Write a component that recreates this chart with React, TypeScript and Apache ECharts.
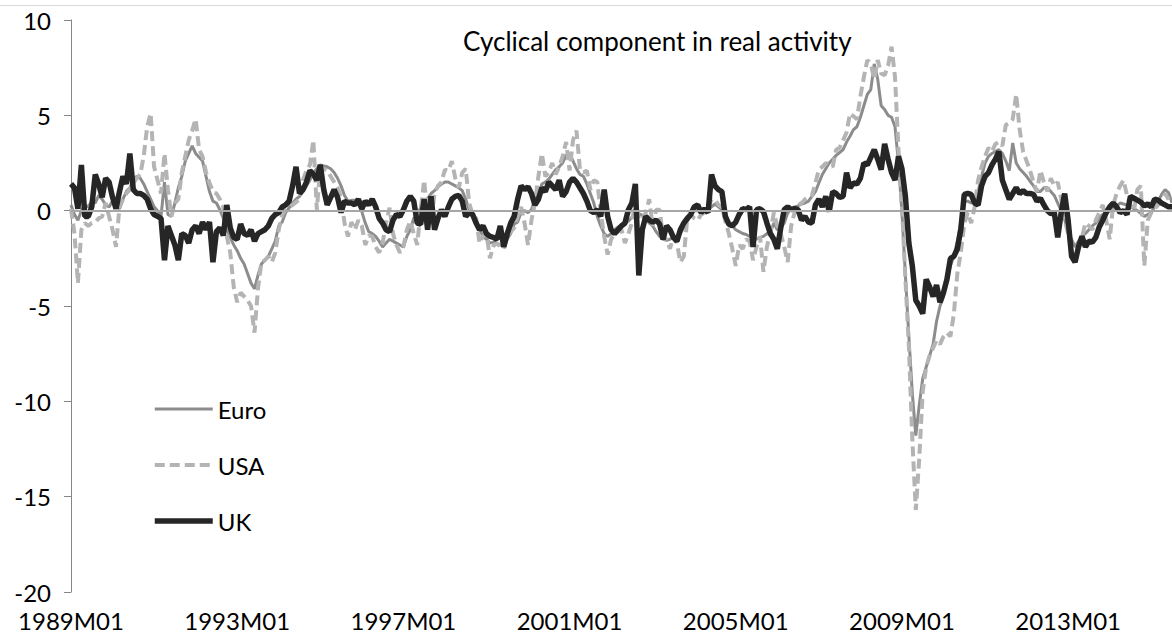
import React, { useEffect, useRef } from "react";
import * as echarts from "echarts";

// Monthly categories 1989M01 ... 2015M07
const startYear = 1989;
const monthCount = 319;
const months: string[] = [];
for (let k = 0; k < monthCount; k++) {
  const yr = startYear + Math.floor(k / 12);
  const m = (k % 12) + 1;
  months.push(`${yr}M${m < 10 ? "0" + m : m}`);
}

const seriesNames = ["Euro", "USA", "UK"];

// Euro area (one row per year)
const euro: number[] = [
  0.3, -0.2, -0.5, 0.0, 0.3, 0.2, 0.5, 0.4, 0.8, 0.6, 0.3, 0.2,
  0.5, 0.3, 0.1, 0.6, 1.0, 1.2, 1.6, 1.8, 1.7, 1.4, 1.0, 0.6,
  0.2, 0.0, -0.3, 1.5, -0.2, -0.3, 0.4, 1.2, 1.8, 2.6, 3.0, 3.4,
  3.0, 2.8, 2.6, 1.8, 1.0, 0.5, 0.4, 0.05, -0.4, -1.0, -1.4, -1.8,
  -2.1, -2.5, -2.8, -3.3, -3.8, -4.1, -3.4, -2.8, -2.6, -2.4, -2.0, -1.6,
  -0.8, -0.6, -0.1, 0.15, 0.4, 0.6, 0.75, 1.0, 1.3, 1.6, 2.0, 2.2,
  2.4, 2.35, 2.3, 2.2, 2.0, 1.7, 1.3, 0.8, 0.5, 0.55, 0.55, 0.4,
  -0.05, -0.65, -1.1, -1.2, -1.35, -1.6, -1.9, -1.7, -1.5, -1.6, -1.7, -1.8,
  -1.9, -1.35, -1.0, -0.4, -0.2, 0.15, 0.3, 0.65, 0.9, 1.05, 1.25, 1.4,
  1.5, 1.5, 1.4, 1.3, 1.2, 1.05, 0.6, 0.05, -0.3, -0.65, -1.0, -1.35,
  -1.5, -1.7, -1.65, -1.7, -1.8, -1.9, -1.5, -1.2, -0.7, -0.6, -0.1, 0.0,
  -0.1, 0.05, 0.6, 0.85, 1.4, 1.5, 1.65, 1.9, 2.15, 2.3, 2.5, 2.9,
  3.0, 2.6, 2.2, 1.9, 1.8, 1.4, 0.9, 0.4, -0.3, -0.8, -1.2, -1.35,
  -1.2, -1.0, -0.85, -0.8, -0.65, -0.55, -0.35, -0.1, -0.15, -0.25, -0.4, -0.65,
  -0.8, -1.1, -1.35, -1.5, -1.55, -1.5, -1.4, -1.35, -1.2, -0.9, -0.55, -0.25,
  0.0, 0.0, -0.1, -0.05, 0.05, 0.2, 0.35, 0.2, 0.05, -0.4, -0.65, -0.8,
  -1.0, -1.1, -1.2, -1.25, -1.35, -1.4, -1.5, -1.4, -1.35, -1.2, -1.15, -0.65,
  -1.0, -0.9, -0.65, -0.12, 0.1, 0.2, 0.25, 0.35, 0.4, 0.5, 0.75, 1.0,
  1.45, 1.9, 2.2, 2.5, 2.7, 2.9, 3.05, 3.2, 3.6, 3.9, 4.25, 4.4,
  4.9, 5.5, 6.1, 6.35, 7.7, 6.9, 5.5, 5.3, 5.0, 4.9, 4.4, 2.5,
  -0.1, -3.4, -6.6, -9.6, -11.8, -10.2, -8.8, -8.2, -7.6, -7.0, -5.8, -5.0,
  -4.5, -3.6, -2.9, -2.4, -1.6, -0.6, 0.5, 0.5, 0.4, 0.5, 1.0, 1.8,
  2.5, 2.85, 3.0, 3.1, 3.2, 3.0, 2.6, 2.1, 3.55, 2.5, 2.2, 2.0,
  1.8, 1.55, 1.3, 1.0, 1.0, 1.2, 1.2, 1.0, 0.8, 0.4, 0.0, -0.47,
  -1.1, -1.5, -1.9, -1.6, -1.35, -1.2, -1.0, -0.8, -0.65, -0.4, -0.2, -0.12,
  0.0, 0.1, 0.25, 0.4, 0.35, 0.3, 0.23, 0.1, 0.0, -0.15, -0.3, -0.2,
  -0.1, 0.2, 0.5, 0.85, 1.1, 0.95, 0.4,
];

// USA (one row per year)
const usa: number[] = [
  0.1, -1.2, -3.8, -1.0, -0.65, -0.8, -0.65, -0.6, -0.4, -0.3, 0.4, -0.3,
  -1.0, -1.9, 0.2, 0.6, 0.9, 1.1, 1.45, 1.7, 1.9, 2.85, 4.4, 5.1,
  2.3, 1.6, 0.9, 3.0, 1.1, -0.3, 0.4, 0.6, 2.0, 2.85, 3.7, 4.2,
  4.8, 3.2, 2.85, 2.0, 1.45, 1.0, 0.9, 0.6, 0.2, -1.35, -2.2, -4.0,
  -4.8, -4.3, -4.5, -4.7, -5.0, -6.4, -4.1, -2.7, -2.6, -2.4, -2.7, -2.2,
  -1.0, -0.2, 0.05, 0.2, 0.3, 0.45, 0.6, 1.6, 2.1, 2.4, 3.7, 0.05,
  2.2, 2.2, 2.1, 1.8, 1.5, 1.2, 0.7, -0.65, -1.35, -0.6, -1.0, -0.5,
  -0.8, -1.8, -1.3, -1.35, -1.9, -2.2, -1.7, -0.65, 0.15, -1.2, -1.8, -2.2,
  -1.9, -1.0, -0.55, -1.2, -1.8, 0.05, 1.6, -0.3, -0.65, 0.9, 1.3, 1.5,
  2.15, 2.1, 2.6, 1.7, 1.2, 2.0, 2.2, 0.4, -0.2, -0.4, -1.7, -1.35,
  -1.2, -2.5, -1.85, -1.7, -1.9, -2.0, -1.3, -1.1, -0.9, -0.3, 0.2, -0.65,
  -1.8, -0.5, 0.4, 1.8, 3.0, 1.8, 2.0, 2.5, 1.9, 2.3, 2.85, 3.6,
  2.1, 3.7, 4.2, 2.15, 2.0, 2.1, 1.1, 1.6, 1.5, -0.1, -1.35, -2.3,
  -1.5, -1.2, -1.1, -1.0, -1.7, -1.2, -0.65, 0.6, -0.4, -0.5, -0.1, 0.6,
  -0.8, 0.05, 0.05, -1.35, -1.5, -2.0, -1.35, -1.7, -2.7, -2.4, -0.4, -0.2,
  -0.4, -0.5, -0.2, -0.1, 0.1, 0.6, 0.6, 0.3, 0.2, -0.55, -1.2, -2.0,
  -2.9, -1.8, -2.0, -1.5, -1.6, -2.6, -1.9, -1.35, -3.2, -1.9, -1.1, -0.1,
  -0.8, -1.2, -1.9, -2.7, -0.8, -0.1, 0.3, 0.4, 0.6, 0.7, 0.8, 1.45,
  2.15, 2.3, 2.5, 2.4, 2.3, 3.2, 3.3, 3.7, 4.1, 5.1, 4.95, 4.8,
  6.0, 7.0, 7.9, 7.7, 6.9, 7.9, 7.2, 7.1, 7.6, 8.6, 7.0, 3.2,
  0.2, -3.6, -7.1, -12.0, -15.7, -13.0, -9.5, -8.2, -7.6, -7.2, -6.8, -7.0,
  -6.6, -6.4, -6.6, -5.4, -3.3, -2.2, -0.7, -0.1, -0.65, 0.2, 1.6, 2.3,
  2.85, 3.3, 3.1, 3.5, 3.6, 3.4, 4.5, 4.6, 4.8, 6.1, 4.25, 3.1,
  2.6, 2.1, 1.5, 1.0, 2.1, 1.5, 1.0, 1.7, 1.3, 1.5, 0.6, -0.5,
  -1.2, -2.1, -2.5, -1.8, -1.4, -0.65, -0.8, -1.0, -0.5, -0.1, 0.3, -0.5,
  -1.5, 0.3, 0.9, 1.3, 1.6, 0.8, 0.3, 0.0, 1.1, 1.3, -2.9, -0.5,
  -0.1, 0.1, 0.3, 0.5, 0.9, 0.6, 0.2,
];

// UK (one row per year)
const uk: number[] = [
  1.4, 1.2, 0.1, 2.4, -0.3, -0.3, 0.2, 1.9, 1.4, 0.7, 1.7, 1.5,
  0.7, 0.1, 1.0, 1.8, 1.4, 3.0, 1.1, 0.9, 0.9, 0.8, 0.6, 0.1,
  -0.2, -0.3, -0.4, -2.6, -0.8, -1.3, -1.8, -2.6, -1.2, -1.3, -1.7, -1.0,
  -0.8, -1.2, -0.6, -1.0, -0.6, -2.7, -1.1, -0.9, -1.3, 0.3, -0.9, -1.4,
  -1.5, -0.7, -1.2, -1.3, -1.0, -1.6, -1.2, -1.1, -1.0, -0.8, -0.4, -0.2,
  -0.1, 0.2, 0.3, 0.5, 1.3, 2.3, 0.9, 1.1, 1.5, 2.1, 1.9, 1.6,
  2.4, 1.1, 0.3, 0.7, 1.1, 0.7, -0.1, 0.5, 0.4, 0.4, 0.3, 0.6,
  0.1, 0.5, 0.3, 0.6, 0.2, -0.4, -0.65, -1.0, -1.1, -0.5, -0.2, -0.3,
  0.05, 0.5, 0.75, 0.5, -0.65, -0.7, 0.6, -1.0, 0.75, -1.0, -0.4, 0.05,
  -0.3, 0.2, 0.6, 0.75, 0.8, 0.5, -0.3, -0.1, -0.2, -0.65, -1.0, -0.8,
  -1.2, -1.35, -1.4, -1.5, -0.8, -1.9, -1.2, -0.65, -0.3, 0.6, 1.3, 1.1,
  1.25, 0.9, 0.3, 0.6, 1.2, 1.0, 1.5, 1.3, 1.1, 1.6, 0.75, 1.0,
  1.5, 1.7, 1.5, 1.2, 0.9, 0.5, 0.0, -0.1, 0.05, -0.3, 1.1, -0.3,
  -1.0, -1.2, -1.0, -0.8, -0.65, 0.05, 0.4, 1.4, -3.4, -1.0, -0.3, -0.5,
  -0.6, -0.5, -0.7, -1.5, -0.8, -1.0, -1.4, -1.6, -1.0, -0.65, -0.4, -0.2,
  0.2, 0.3, -0.1, 0.1, -0.1, 1.9, 1.3, 1.1, 1.0, -0.3, -0.7, -0.8,
  -0.6, -0.2, 0.1, 0.05, 0.2, -1.9, 0.05, 0.1, -0.05, -0.65, -1.2, -1.5,
  -2.0, -0.9, 0.05, 0.2, 0.05, 0.1, 0.05, -0.5, -0.3, -0.6, -0.65, 0.3,
  0.6, 0.2, 0.75, -0.05, 1.0, 0.9, 0.7, 0.75, 2.0, 1.2, 1.45, 1.4,
  1.7, 2.5, 2.4, 2.8, 3.2, 2.7, 2.15, 3.5, 2.7, 2.0, 1.6, 2.85,
  2.2, 0.75, -1.7, -2.9, -4.7, -5.0, -5.4, -3.6, -4.0, -4.5, -3.9, -4.8,
  -4.3, -3.6, -2.5, -2.4, -2.0, -1.0, 0.85, 0.9, 0.85, 0.4, 0.3, 1.3,
  1.8, 2.0, 2.4, 2.7, 3.1, 1.6, 1.1, 0.6, 0.9, 1.2, 0.9, 1.05,
  0.9, 0.9, 0.85, 0.5, 0.65, 0.3, 0.0, -0.15, -0.1, -1.4, -0.1, 0.9,
  -0.5, -2.4, -2.7, -1.9, -1.35, -1.9, -1.6, -1.65, -1.4, -0.85, -0.5, -0.1,
  0.2, 0.4, 0.2, -0.1, 0.0, -0.2, 0.75, 0.65, 0.55, 0.45, 0.25, 0.35,
  0.2, 0.6, 0.55, 0.4, 0.3, 0.2, 0.2,
];

const yMin = -20;
const yMax = 10;
const yStep = 5;
const labelEvery = 48;
const titleText = "Cyclical component in real activity";

const euroStyle = { color: "#8c8c8c", width: 3, type: "solid" as any };
const usaStyle = { color: "#b4b4b4", width: 4, type: [10, 5] as any };
const ukStyle = { color: "#262626", width: 5.5, type: "solid" as any };

export default function App() {
  const ref = useRef<HTMLDivElement>(null);
  useEffect(() => {
    if (!ref.current) return;
    const chart = echarts.init(ref.current, null, { renderer: "svg" });
    chart.setOption({
      animation: false,
      backgroundColor: "#ffffff",
      textStyle: { fontFamily: "Lato" },
      title: {
        text: titleText,
        left: 463,
        top: 28,
        padding: 0,
        textStyle: { fontFamily: "Lato", fontSize: 26, fontWeight: "normal", color: "#000" },
      },
      graphic: [
        {
          type: "line",
          shape: { x1: 0, y1: 5.5, x2: 1172, y2: 5.5 },
          style: { stroke: "#d9d9d9", lineWidth: 1 },
          silent: true,
        },
      ],
      legend: {
        data: [
          { name: seriesNames[0], lineStyle: { width: euroStyle.width, color: euroStyle.color, type: euroStyle.type } },
          { name: seriesNames[1], lineStyle: { width: usaStyle.width, color: usaStyle.color, type: usaStyle.type } },
          { name: seriesNames[2], lineStyle: { width: ukStyle.width, color: ukStyle.color, type: ukStyle.type } },
        ],
        orient: "vertical",
        left: 152,
        top: 397,
        padding: 0,
        itemWidth: 58,
        itemHeight: 14,
        itemGap: 32,
        itemStyle: { opacity: 0, borderWidth: 0 },
        textStyle: { fontFamily: "Lato", fontSize: 24, color: "#000" },
      },
      grid: { left: 71, right: 0, top: 20, bottom: 48, containLabel: false },
      xAxis: {
        type: "category",
        data: months,
        boundaryGap: false,
        axisLine: { show: false },
        axisTick: { show: false },
        splitLine: { show: false },
        axisLabel: {
          interval: (idx: number) => idx % labelEvery === 0,
          fontFamily: "Lato",
          fontSize: 24,
          color: "#000",
          margin: 16,
        },
      },
      yAxis: {
        type: "value",
        min: yMin,
        max: yMax,
        interval: yStep,
        axisLine: { show: true, lineStyle: { color: "#868686", width: 1 } },
        axisTick: { show: true, inside: false, length: 7, lineStyle: { color: "#868686" } },
        splitLine: { show: false },
        axisLabel: { fontFamily: "Lato", fontSize: 24, color: "#000", margin: 20 },
      },
      series: [
        {
          name: "zero",
          type: "line",
          data: [],
          z: 1,
          silent: true,
          markLine: {
            silent: true,
            symbol: ["none", "none"],
            label: { show: false },
            lineStyle: { color: "#a6a6a6", width: 2, type: "solid" },
            data: [{ yAxis: 0 }],
          },
        },
        {
          name: "Euro",
          type: "line",
          data: euro,
          showSymbol: false,
          symbol: "none",
          z: 2,
          lineStyle: euroStyle,
          itemStyle: { color: euroStyle.color },
        },
        {
          name: "USA",
          type: "line",
          data: usa,
          showSymbol: false,
          symbol: "none",
          z: 3,
          lineStyle: usaStyle,
          itemStyle: { color: usaStyle.color },
        },
        {
          name: "UK",
          type: "line",
          data: uk,
          showSymbol: false,
          symbol: "none",
          z: 4,
          lineStyle: ukStyle,
          itemStyle: { color: ukStyle.color },
        },
      ],
    });
    return () => chart.dispose();
  }, []);
  return (
    <div
      ref={ref}
      style={{ position: "fixed", left: 0, top: 0, width: 1172, height: 640 }}
    />
  );
}
